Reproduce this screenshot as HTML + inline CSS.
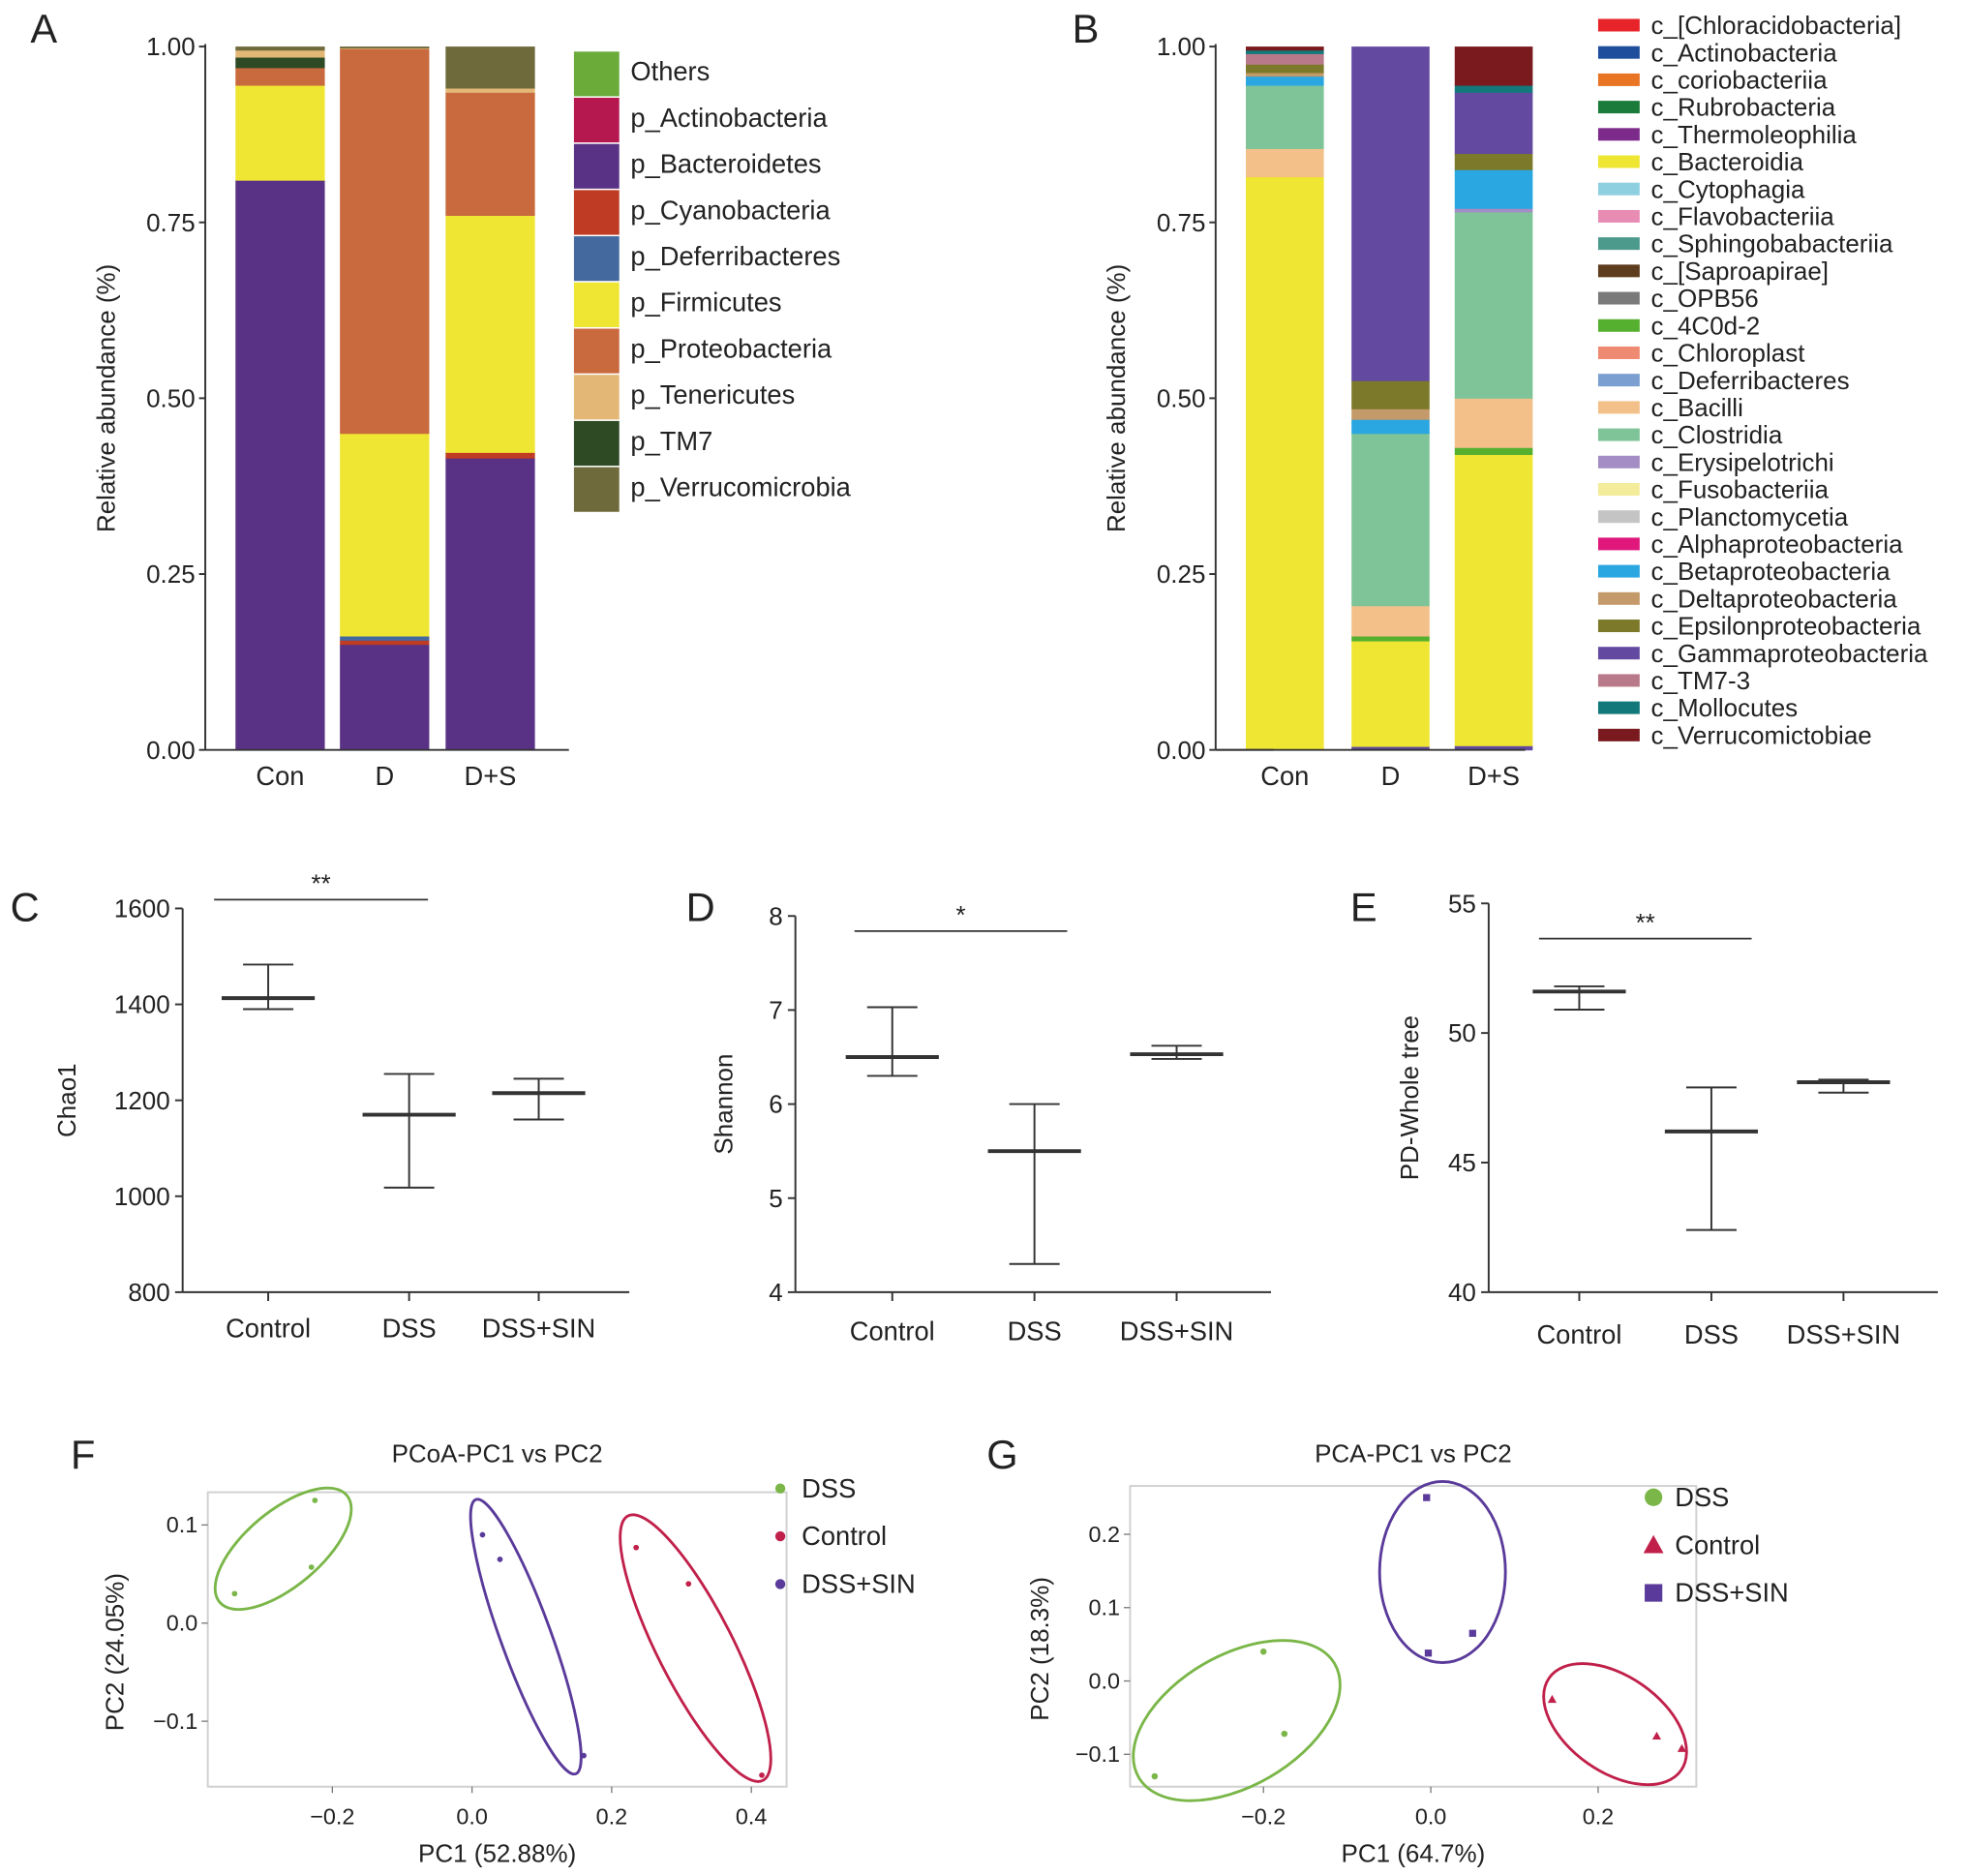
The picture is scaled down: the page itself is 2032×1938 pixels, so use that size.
<!DOCTYPE html>
<html><head><meta charset="utf-8"><style>
html,body{margin:0;padding:0;background:#fff;}
svg{display:block;font-family:"Liberation Sans",sans-serif;}
</style></head><body>
<svg id="fig" width="2032" height="1938" viewBox="0 0 1563 1491" xmlns="http://www.w3.org/2000/svg"></svg>
<script>
// ---- Panel A data ----
const catsA = ["Con","D","D+S"];
const phylaA = ["p_Bacteroidetes","p_Cyanobacteria","p_Deferribacteres","p_Firmicutes","p_Proteobacteria","p_TM7","p_Tenericutes","p_Verrucomicrobia"];
const valsA_Con = [0.81,0.0,0.0,0.135,0.025,0.015,0.01,0.005];
const valsA_D = [0.15,0.006,0.006,0.288,0.547,0.0,0.001,0.002];
const valsA_DS = [0.415,0.008,0.0,0.337,0.175,0.0,0.006,0.059];
const legendA = ["Others","p_Actinobacteria","p_Bacteroidetes","p_Cyanobacteria","p_Deferribacteres","p_Firmicutes","p_Proteobacteria","p_Tenericutes","p_TM7","p_Verrucomicrobia"];
const ticksA = [0,0.25,0.5,0.75,1.0];
// ---- Panel B data ----
const classesB = ["c_Gammaproteobacteria","c_Bacteroidia","c_4C0d-2","c_Bacilli","c_Clostridia","c_Erysipelotrichi","c_Betaproteobacteria","c_Deltaproteobacteria","c_Epsilonproteobacteria","c_Gammaproteobacteria","c_TM7-3","c_Mollocutes","c_Verrucomictobiae"];
const valsB_Con = [0.0,0.815,0.0,0.04,0.09,0.0,0.013,0.005,0.012,0.0,0.015,0.005,0.005];
const valsB_D = [0.005,0.15,0.007,0.043,0.245,0.0,0.02,0.015,0.04,0.475,0.0,0.0,0.0];
const valsB_DS = [0.006,0.414,0.01,0.07,0.265,0.005,0.055,0.0,0.023,0.087,0.0,0.01,0.055];
const legendB = ["c_[Chloracidobacteria]","c_Actinobacteria","c_coriobacteriia","c_Rubrobacteria","c_Thermoleophilia","c_Bacteroidia","c_Cytophagia","c_Flavobacteriia","c_Sphingobabacteriia","c_[Saproapirae]","c_OPB56","c_4C0d-2","c_Chloroplast","c_Deferribacteres","c_Bacilli","c_Clostridia","c_Erysipelotrichi","c_Fusobacteriia","c_Planctomycetia","c_Alphaproteobacteria","c_Betaproteobacteria","c_Deltaproteobacteria","c_Epsilonproteobacteria","c_Gammaproteobacteria","c_TM7-3","c_Mollocutes","c_Verrucomictobiae"];
// ---- Panels C/D/E data ----
const groupsCDE = ["Control","DSS","DSS+SIN"];
const chaoMean = [1413,1170,1215], chaoHi=[1483,1255,1245], chaoLo=[1390,1018,1160];
const chaoTicks = [800,1000,1200,1400,1600];
const shanMean = [6.5,5.5,6.53], shanHi=[7.03,6.0,6.62], shanLo=[6.3,4.3,6.48];
const shanTicks = [4,5,6,7,8];
const pdMean = [51.6,46.2,48.1], pdHi=[51.8,47.9,48.2], pdLo=[50.9,42.4,47.7];
const pdTicks = [40,45,50,55];
// ---- Panel F data ----
const fDssX=[-0.34,-0.225,-0.23], fDssY=[0.03,0.125,0.057];
const fSinX=[0.015,0.04,0.16], fSinY=[0.09,0.065,-0.135];
const fConX=[0.235,0.31,0.415], fConY=[0.077,0.04,-0.155];
const fXTicks=[-0.2,0.0,0.2,0.4], fYTicks=[-0.1,0.0,0.1];
// ---- Panel G data ----
const gDssX=[-0.33,-0.2,-0.175], gDssY=[-0.13,0.04,-0.072];
const gConX=[0.145,0.27,0.3], gConY=[-0.025,-0.075,-0.092];
const gSinX=[-0.005,-0.003,0.05], gSinY=[0.25,0.038,0.065];
const gXTicks=[-0.2,0.0,0.2], gYTicks=[-0.1,0.0,0.1,0.2];

const colA = {"Others":"#6aab3a","p_Actinobacteria":"#b5174f","p_Bacteroidetes":"#5a3285","p_Cyanobacteria":"#bf3b23","p_Deferribacteres":"#44699e","p_Firmicutes":"#efe633","p_Proteobacteria":"#c96a3e","p_Tenericutes":"#e3b877","p_TM7":"#2d4a25","p_Verrucomicrobia":"#6e6a3c"};
const colB = {"c_[Chloracidobacteria]":"#e8242b","c_Actinobacteria":"#1f4f9c","c_coriobacteriia":"#e87424","c_Rubrobacteria":"#1a7b3a","c_Thermoleophilia":"#7d2b8a","c_Bacteroidia":"#efe633","c_Cytophagia":"#8fd0e0","c_Flavobacteriia":"#e88cb4","c_Sphingobabacteriia":"#4c9a8c","c_[Saproapirae]":"#5e3c1e","c_OPB56":"#7a7a7a","c_4C0d-2":"#55b030","c_Chloroplast":"#ef8a72","c_Deferribacteres":"#7a9fd0","c_Bacilli":"#f3c08a","c_Clostridia":"#7fc498","c_Erysipelotrichi":"#a48cc4","c_Fusobacteriia":"#f3ec9a","c_Planctomycetia":"#c4c4c4","c_Alphaproteobacteria":"#e0187c","c_Betaproteobacteria":"#2aa6e0","c_Deltaproteobacteria":"#c49a6a","c_Epsilonproteobacteria":"#7c7a2a","c_Gammaproteobacteria":"#634aa0","c_TM7-3":"#b87a8a","c_Mollocutes":"#12787a","c_Verrucomictobiae":"#7a1a1e"};

const svg=document.getElementById('fig');
const NS="http://www.w3.org/2000/svg";
function mk(tag,attrs,parent){const e=document.createElementNS(NS,tag);for(const k in attrs)e.setAttribute(k,attrs[k]);(parent||svg).appendChild(e);return e;}
function txt(s,x,y,size,anchor,parent,extra){const t=mk('text',Object.assign({x:x,y:y,'font-size':size,'text-anchor':anchor||'start',fill:'#222'},extra||{}),parent);t.textContent=s;return t;}
function lin(x1,y1,x2,y2,parent,w,c){return mk('line',{x1,y1,x2,y2,stroke:c||'#333','stroke-width':w||1.5},parent);}
function letter(s,x,y){const t=txt(s,x,y,32,'start');}

function stacked(name,x0,yTop,yBot,axisX,axisEnd,barX,barW,cats,names,vals,colors){
  const g=mk('g',{});
  
  
  const ys=v=>yBot-v*(yBot-yTop);
  cats.forEach((c,i)=>{
    let acc=0;
    names.forEach((n,j)=>{
      const v=vals[i][j]; if(v<=0){return;}
      const r=mk('rect',{x:barX[i],y:ys(acc+v),width:barW,height:v*(yBot-yTop)+0.4,fill:colors[n]},g);
      
      
      acc+=v;
    });
    const t=txt(c,barX[i]+barW/2,624,21,'middle',g);
    
    
  });
  lin(axisX,yTop-2,axisX,yBot,g,1.5);
  lin(axisX,yBot,axisEnd,yBot,g,1.5);
  ticksA.forEach(v=>{lin(axisX-5,ys(v),axisX,ys(v),g,1.5);const t=txt(v.toFixed(2),axisX-8,ys(v)+7,20,'end',g);});
  const yl=txt('Relative abundance (%)',0,0,20,'middle',g,{transform:`translate(${axisX-72},${(yTop+yBot)/2}) rotate(-90)`});
  
  
  return g;
}
letter('A',24,34);
stacked('phylum-bar-chart',0,37,596,163,452,[187,270,354],71,catsA,phylaA,[valsA_Con,valsA_D,valsA_DS],colA);
const legA=mk('g',{});


legendA.forEach((n,i)=>{const y=41+i*36.7;const r=mk('rect',{x:456,y:y,width:36,height:35.5,fill:colA[n]},legA);const t=txt(n,501,y+23,21,'start',legA);});

letter('B',852,34);
stacked('class-bar-chart',0,37,596,966,1012,[990,1074,1156],62,catsA,classesB,[valsB_Con,valsB_D,valsB_DS],colB);
lin(966,596,1212,596,svg,1.5);
const legB=mk('g',{});


legendB.forEach((n,i)=>{const y=20+i*21.7;const r=mk('rect',{x:1270,y:y-5,width:33,height:10,fill:colB[n]},legB);const t=txt(n,1312,y+7,20,'start',legB);});

function errPanel(name,L,axisX,axisEnd,yTop,yBot,tickVals,xPos,mean,hi,lo,ylabel,ylabX,sig,sigX1,sigX2,sigY,labY){
  const g=mk('g',{});
  
  
  const mn=tickVals[0],mx=tickVals[tickVals.length-1];
  const ys=v=>yBot-(v-mn)/(mx-mn)*(yBot-yTop);
  lin(axisX,yTop,axisX,yBot,g,1.5);lin(axisX,yBot,axisEnd,yBot,g,1.5);
  tickVals.forEach(v=>{lin(axisX-6,ys(v),axisX,ys(v),g,1.5);const t=txt(String(v),axisX-10,ys(v)+7,20,'end',g);});
  groupsCDE.forEach((c,i)=>{
    const x=xPos[i];
    lin(x,yBot,x,yBot+7,g,1.5);
    const t=txt(c,x,labY,21,'middle',g);
    const eg=mk('g',{},g);
    
    
    lin(x,ys(hi[i]),x,ys(lo[i]),eg,1.5);
    lin(x-20,ys(hi[i]),x+20,ys(hi[i]),eg,1.5);
    lin(x-20,ys(lo[i]),x+20,ys(lo[i]),eg,1.5);
    lin(x-37,ys(mean[i]),x+37,ys(mean[i]),eg,3);
  });
  lin(sigX1,sigY,sigX2,sigY,g,1.3);
  const s=txt(sig,(sigX1+sigX2)/2,sigY-6,20,'middle',g);
  const yl=txt(ylabel,0,0,20,'middle',g,{transform:`translate(${ylabX},${(yTop+yBot)/2}) rotate(-90)`});
  
}
letter('C',8,732);letter('D',545,732);letter('E',1073,732);
errPanel('chao1-chart','C',145,500,722,1027,chaoTicks,[213,325,428],chaoMean,chaoHi,chaoLo,'Chao1',60,'**',170,340,715,1063);
errPanel('shannon-chart','D',632,1010,728,1027,shanTicks,[709,822,935],shanMean,shanHi,shanLo,'Shannon',582,'*',679,848,740,1065);
errPanel('pd-whole-tree-chart','E',1183,1540,718,1027,pdTicks,[1255,1360,1465],pdMean,pdHi,pdLo,'PD-Whole tree',1127,'**',1223,1392,746,1068);

function scatter(name,box,xmap,ymap,xt,yt,title,xlab,ylab,ylabX,series,ells,legX,legY0,legStep){
  const g=mk('g',{});
  
  
  mk('rect',{x:box[0],y:box[1],width:box[2]-box[0],height:box[3]-box[1],fill:'none',stroke:'#d0d0d0','stroke-width':1.5},g);
  const sx=v=>xmap[0]+(v-xmap[1])*xmap[2], sy=v=>ymap[0]-(v-ymap[1])*ymap[2];
  xt.forEach(v=>{lin(sx(v),box[3],sx(v),box[3]+5,g,1,'#777');const t=txt(v.toFixed(1).replace('-','−'),sx(v),box[3]+30,18,'middle',g);});
  yt.forEach(v=>{lin(box[0]-5,sy(v),box[0],sy(v),g,1,'#777');const t=txt(v.toFixed(1).replace('-','−'),box[0]-8,sy(v)+6,18,'end',g);});
  const tt=txt(title,(box[0]+box[2])/2,1162,20,'middle',g);
  const xl=txt(xlab,(box[0]+box[2])/2,1480,20,'middle',g);
  const yl=txt(ylab,0,0,20,'middle',g,{transform:`translate(${ylabX},${(box[1]+box[3])/2+10}) rotate(-90)`});
  ells.forEach(e=>{
    const xs=e.xs.map(sx), ysv=e.ys.map(sy);
    const cx=xs.reduce((a,b)=>a+b)/xs.length+(e.dx||0), cy=ysv.reduce((a,b)=>a+b)/ysv.length+(e.dy||0);
    const el=mk('ellipse',{cx:cx,cy:cy,rx:e.rx,ry:e.ry,transform:`rotate(${e.rot} ${cx} ${cy})`,fill:'none',stroke:e.c,'stroke-width':2.2},g);
    
  });
  series.forEach((s,k)=>{
    s.xs.forEach((xv,i)=>{
      const x=sx(xv),y=sy(s.ys[i]);let m;
      if(s.shape==='tri') m=mk('path',{d:`M${x},${y-s.r}L${x+s.r},${y+s.r*0.8}L${x-s.r},${y+s.r*0.8}Z`,fill:s.c},g);
      else if(s.shape==='sq') m=mk('rect',{x:x-s.r,y:y-s.r,width:2*s.r,height:2*s.r,fill:s.c},g);
      else m=mk('circle',{cx:x,cy:y,r:s.r,fill:s.c},g);
      
      
    });
    const ly=legY0+k*legStep;let lm;
    const R=s.legR;
    if(s.shape==='tri') lm=mk('path',{d:`M${legX},${ly-R}L${legX+R},${ly+R*0.8}L${legX-R},${ly+R*0.8}Z`,fill:s.c},g);
    else if(s.shape==='sq') lm=mk('rect',{x:legX-R,y:ly-R,width:2*R,height:2*R,fill:s.c},g);
    else lm=mk('circle',{cx:legX,cy:ly,r:R,fill:s.c},g);
    
    const t=txt(s.n,legX+17,ly+7,21,'start',g);
  });
}
letter('F',56,1167);letter('G',784,1167);
scatter('pcoa-chart',[165,1186,625,1420],[375,0,555],[1290,0,780],fXTicks,fYTicks,'PCoA-PC1 vs PC2','PC1 (52.88%)','PC2 (24.05%)',98,
 [{n:'DSS',xs:fDssX,ys:fDssY,c:'#7ab648',r:2.2,shape:'c',legR:4},{n:'Control',xs:fConX,ys:fConY,c:'#c0204a',r:2.2,shape:'c',legR:4},{n:'DSS+SIN',xs:fSinX,ys:fSinY,c:'#5a3a9a',r:2.2,shape:'c',legR:4}],
 [{xs:fDssX,ys:fDssY,c:'#7ab648',rx:66,ry:30,rot:-40,dx:-3,dy:-4},{xs:fSinX,ys:fSinY,c:'#5a3a9a',rx:116,ry:20,rot:70,dx:3,dy:16},{xs:fConX,ys:fConY,c:'#c0204a',rx:118,ry:30,rot:63,dx:0,dy:10}],620,1183,38);
scatter('pca-chart',[898,1181,1348,1420],[1137,0,665],[1336,0,583],gXTicks,gYTicks,'PCA-PC1 vs PC2','PC1 (64.7%)','PC2 (18.3%)',833,
 [{n:'DSS',xs:gDssX,ys:gDssY,c:'#7ab648',r:2.5,shape:'c',legR:7},{n:'Control',xs:gConX,ys:gConY,c:'#c0204a',r:3.5,shape:'tri',legR:8},{n:'DSS+SIN',xs:gSinX,ys:gSinY,c:'#5a3a9a',r:2.8,shape:'sq',legR:7}],
 [{xs:gDssX,ys:gDssY,c:'#7ab648',rx:90,ry:52,rot:-30,dx:2,dy:0},{xs:gSinX,ys:gSinY,c:'#5a3a9a',rx:72,ry:50,rot:90,dx:0,dy:-18},{xs:gConX,ys:gConY,c:'#c0204a',rx:64,ry:38,rot:35,dx:-12,dy:-3}],1314,1190,38);
</script>
</body></html>
